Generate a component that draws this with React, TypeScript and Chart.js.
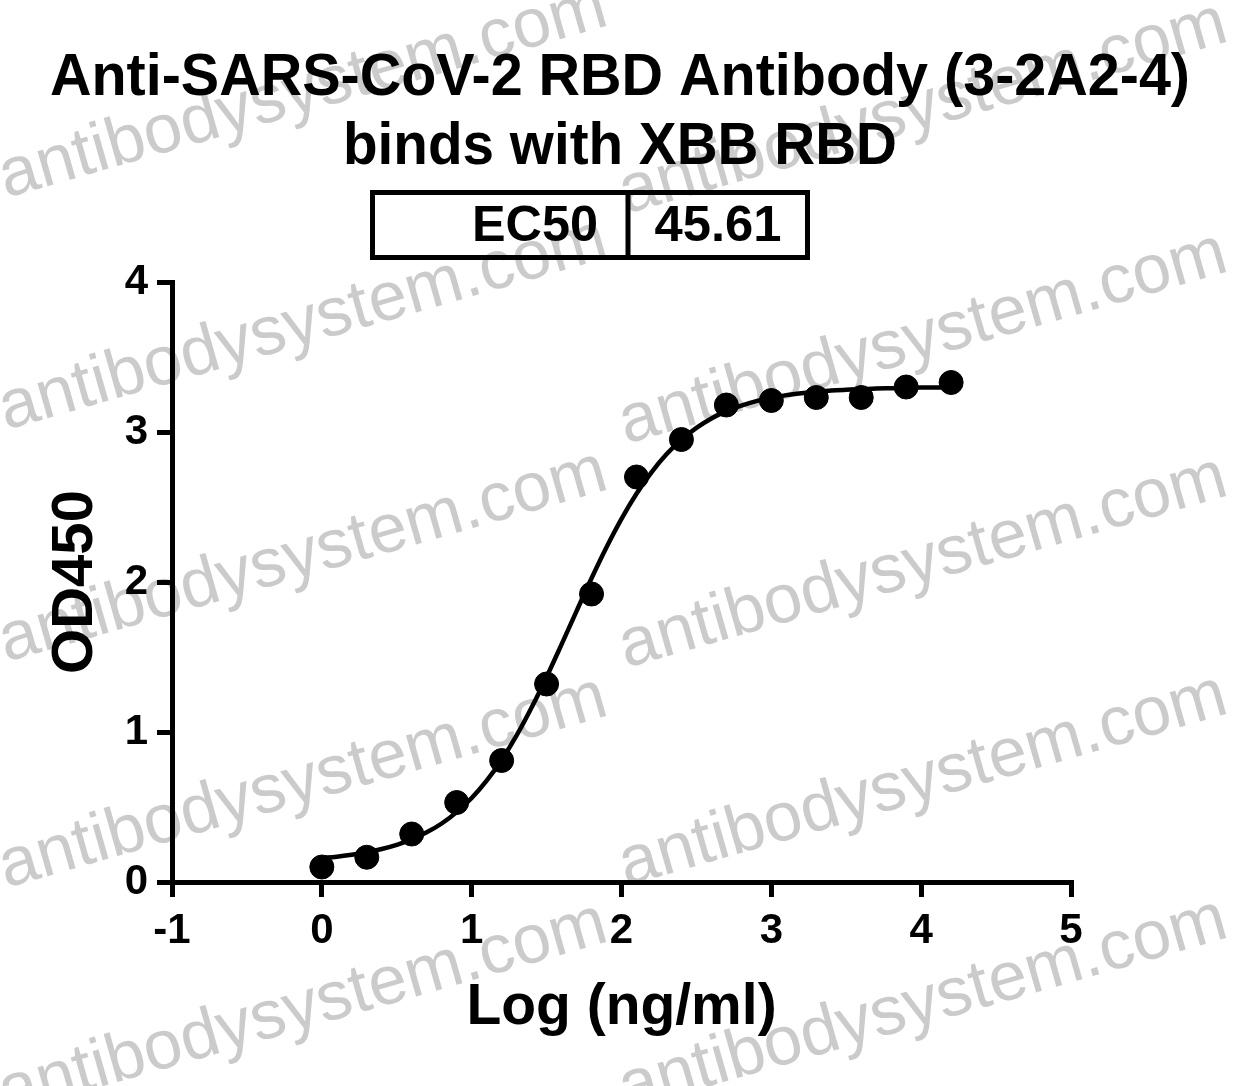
import React, { useEffect, useRef } from "react";
import { Chart, registerables } from "chart.js";

Chart.register(...registerables);

// ---- data ----
const TITLE_LINES = ["Anti-SARS-CoV-2 RBD Antibody (3-2A2-4)", "binds with XBB RBD"];
const EC50_LABEL = "EC50";
const EC50_VALUE = "45.61";
const X_TITLE = "Log (ng/ml)";
const Y_TITLE = "OD450";
const WATERMARK = "antibodysystem.com";

// measured points: log concentration vs OD450
const logConc = [0, 0.3, 0.6, 0.9, 1.2, 1.5, 1.8, 2.1, 2.4, 2.7, 3.0, 3.3, 3.6, 3.9, 4.2];
const od450 = [0.1, 0.165, 0.32, 0.53, 0.81, 1.32, 1.92, 2.7, 2.95, 3.18, 3.21, 3.23, 3.23, 3.3, 3.33];

// fitted curve
const curveX = [0, 0.1, 0.2, 0.3, 0.4, 0.5, 0.6, 0.7, 0.8, 0.9, 1.0, 1.1, 1.2, 1.3, 1.4, 1.5, 1.6, 1.7, 1.8, 1.9, 2.0, 2.1, 2.2, 2.3, 2.4, 2.5, 2.6, 2.7, 2.8, 2.9, 3.0, 3.1, 3.2, 3.3, 3.4, 3.5, 3.6, 3.7, 3.8, 3.9, 4.0, 4.1, 4.2];
const curveY = [0.16, 0.169, 0.182, 0.198, 0.22, 0.248, 0.284, 0.331, 0.39, 0.466, 0.56, 0.676, 0.814, 0.977, 1.163, 1.367, 1.584, 1.806, 2.025, 2.232, 2.421, 2.588, 2.731, 2.851, 2.949, 3.027, 3.09, 3.139, 3.176, 3.206, 3.228, 3.246, 3.259, 3.269, 3.276, 3.282, 3.286, 3.29, 3.292, 3.294, 3.296, 3.297, 3.297];

const X_MIN = -1;
const X_MAX = 5;
const Y_MIN = 0;
const Y_MAX = 4;

const FONT = "'Liberation Sans', Arial, Helvetica, sans-serif";

// watermark anchor positions (baseline start)
const WM_X = [6, 626];
const WM_Y_LEFT = [198, 430, 662, 888, 1114];
const WM_Y_RIGHT = [214, 444, 668, 886, 1110];

const decorPlugin = {
  id: "decor",
  beforeDraw(chart: any) {
    const ctx = chart.ctx;
    ctx.save();
    ctx.fillStyle = "#ffffff";
    ctx.fillRect(0, 0, chart.width, chart.height);
    ctx.font = `69px ${FONT}`;
    ctx.fillStyle = "rgba(200,200,200,0.95)";
    ctx.textAlign = "left";
    ctx.textBaseline = "alphabetic";
    const draw = (x: number, y: number) => {
      ctx.save();
      ctx.translate(x, y);
      ctx.rotate((-16 * Math.PI) / 180);
      ctx.fillText(WATERMARK, 0, 0);
      ctx.restore();
    };
    WM_Y_LEFT.forEach((y) => draw(WM_X[0], y));
    WM_Y_RIGHT.forEach((y) => draw(WM_X[1], y));
    ctx.restore();
  },
  afterDraw(chart: any) {
    const ctx = chart.ctx;
    ctx.save();
    ctx.fillStyle = "#000";
    ctx.textBaseline = "alphabetic";
    ctx.font = `bold 59px ${FONT}`;
    const fitText = (text: string, cx: number, y: number, w: number) => {
      const m = ctx.measureText(text).width;
      ctx.save();
      ctx.translate(cx, y);
      ctx.scale(w / m, 1);
      ctx.textAlign = "center";
      ctx.fillText(text, 0, 0);
      ctx.restore();
    };
    fitText(TITLE_LINES[0], 620, 95, 1140);
    fitText(TITLE_LINES[1], 620, 164, 554);

    // EC50 table
    ctx.lineWidth = 5;
    ctx.strokeStyle = "#000";
    ctx.strokeRect(372.5, 192.5, 435, 65);
    ctx.beginPath();
    ctx.moveTo(628, 192.5);
    ctx.lineTo(628, 257.5);
    ctx.stroke();
    ctx.font = `bold 50px ${FONT}`;
    fitText(EC50_LABEL, 535, 241, 126);
    fitText(EC50_VALUE, 718, 241, 127);
    ctx.restore();
  },
};

export default function App() {
  const ref = useRef<HTMLCanvasElement>(null);
  useEffect(() => {
    if (!ref.current) return;
    const chart = new Chart(ref.current, {
      type: "scatter",
      data: {
        datasets: [
          {
            label: "fit",
            data: curveX.map((x, i) => ({ x, y: curveY[i] })),
            showLine: true,
            borderColor: "#000",
            borderWidth: 4.5,
            pointRadius: 0,
            tension: 0.4,
            cubicInterpolationMode: "monotone",
            order: 2,
          },
          {
            label: "data",
            data: logConc.map((x, i) => ({ x, y: od450[i] })),
            showLine: false,
            backgroundColor: "#000",
            borderColor: "#000",
            pointRadius: 12,
            pointHoverRadius: 12,
            order: 1,
          },
        ],
      },
      options: {
        responsive: false,
        animation: false,
        events: [],
        layout: { padding: { left: 0, top: 282, right: 1239 - 1071, bottom: 0 } },
        plugins: { legend: { display: false }, tooltip: { enabled: false }, title: { display: false } },
        scales: {
          x: {
            type: "linear",
            min: X_MIN,
            max: X_MAX,
            afterFit: (s: any) => {
              s.height = 1086 - 882;
            },
            ticks: {
              stepSize: 1,
              color: "#000",
              font: { family: FONT, size: 42, weight: "bold" },
              padding: 9,
              maxRotation: 0,
            },
            grid: { drawOnChartArea: false, drawTicks: true, tickLength: 15, tickWidth: 5, tickColor: "#000", lineWidth: 5, color: "#000" },
            border: { display: true, width: 5, color: "#000" },
            title: {
              display: true,
              text: X_TITLE,
              color: "#000",
              font: { family: FONT, size: 57, weight: "bold" },
              padding: { top: 0, bottom: 44 },
            },
          },
          y: {
            type: "linear",
            min: Y_MIN,
            max: Y_MAX,
            afterFit: (s: any) => {
              s.width = 172;
            },
            ticks: {
              stepSize: 1,
              color: "#000",
              font: { family: FONT, size: 42, weight: "bold" },
              padding: 9,
            },
            grid: { drawOnChartArea: false, drawTicks: true, tickLength: 15, tickWidth: 5, tickColor: "#000", lineWidth: 5, color: "#000" },
            border: { display: true, width: 5, color: "#000" },
            title: {
              display: true,
              text: Y_TITLE,
              color: "#000",
              font: { family: FONT, size: 58, weight: "bold" },
              padding: { top: 41, bottom: 0 },
            },
          },
        },
      },
      plugins: [decorPlugin],
    } as any);
    return () => chart.destroy();
  }, []);
  return (
    <div style={{ position: "absolute", left: 0, top: 0, width: 1239, height: 1086, background: "#fff" }}>
      <canvas ref={ref} width={1239} height={1086} style={{ display: "block" }} />
    </div>
  );
}
